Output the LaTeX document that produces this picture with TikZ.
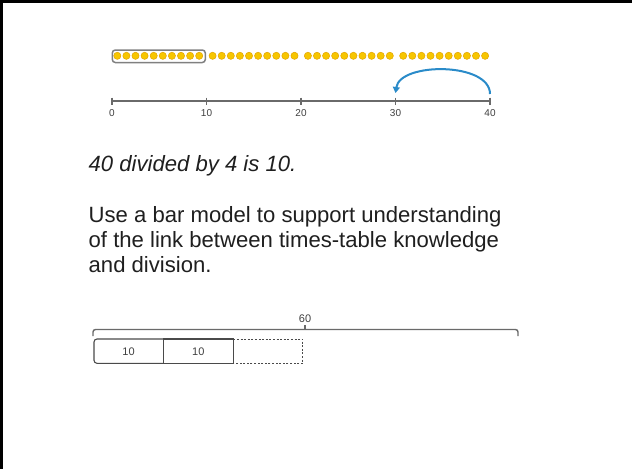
\documentclass[tikz,border=0pt]{standalone}
\usepackage{fontspec}
\setmainfont{Liberation Sans}
\usetikzlibrary{arrows.meta}
\definecolor{dotfill}{HTML}{F7C600}
\definecolor{dotedge}{HTML}{E3A400}
\definecolor{axisgray}{HTML}{6A6A6A}
\definecolor{arcblue}{HTML}{2A8BC9}
\definecolor{bargray}{HTML}{4A4A4A}
\tikzset{
  dot/.style={circle,fill=dotfill,draw=dotedge,line width=0.5pt,inner sep=0pt,minimum size=7.2pt},
  axis/.style={draw=axisgray,line width=1.4pt},
  ticklbl/.style={font=\fontsize{10}{11}\selectfont,text=black!75,inner sep=0pt,anchor=north},
  body/.style={font=\fontsize{22.1}{25}\selectfont,inner sep=0pt,anchor=base west,text=black!88},
  barbox/.style={draw=bargray,line width=1.1pt},
  barlbl/.style={font=\fontsize{11}{12}\selectfont,text=black!75,inner sep=0pt},
}
\begin{document}
\begin{tikzpicture}[x=1pt,y=-1pt]
\useasboundingbox (0,0) rectangle (632,469);
\fill[white] (0,0) rectangle (632,469);
% frame (top and left)
\draw[line width=2.6pt] (0,1.3) -- (632,1.3);
\draw[line width=2.6pt] (1.3,0) -- (1.3,469);
% dots
\foreach \k in {0,1,2,3}{
  \foreach \i in {0,...,9}{
    \node[dot] (d\k\i) at ({117.3+95.3*\k+9.1*\i},55.8) {};
  }
}
% box around first ten
\draw[draw=gray,line width=1.5pt,rounded corners=3pt] (112.3,50) rectangle (205.3,62.5);
% number line
\coordinate (n0) at (112,101);
\coordinate (n40) at (490,101);
\draw[axis] (n0) -- (n40);
\foreach \v/\x in {0/112,10/206.5,20/301,30/395.5,40/490}{
  \coordinate (t\v) at (\x,101);
  \draw[axisgray,line width=1.2pt] (\x,97.5) -- (\x,104.5);
  \node[ticklbl] (l\v) at (\x,109.5) {\v};
}
% jump arc
\coordinate (a1) at (490,94);
\coordinate (a2) at (395.5,93);
\draw[arcblue,line width=2pt,-{Triangle[length=6pt,width=7pt]}]
  (a1) .. controls (490,62) and (400,62) .. (a2);
% text
\node[body,font=\fontsize{22.1}{25}\selectfont\itshape] (t1) at (88.5,171.5) {40 divided by 4 is 10.};
\node[body] (p1) at (88.5,222.5) {Use a bar model to support understanding};
\node[body] (p2) at (88.5,247.5) {of the link between times-table knowledge};
\node[body] (p3) at (88.5,272.5) {and division.};
% bar model brace
\coordinate (bl) at (93,336);
\coordinate (br) at (518,336);
\draw[draw=axisgray,line width=1.4pt,rounded corners=2.5pt] (bl) -- (93,329.5) -- (518,329.5) -- (br);
\draw[draw=axisgray,line width=1.2pt] (305,329.5) -- (305,325);
\node[barlbl,anchor=south] (lab60) at (305,322.5) {60};
% bars
\draw[barbox,rounded corners=3pt] (163.3,339) -- (94,339) -- (94,363.3) -- (163.3,363.3);
\draw[barbox] (163.3,339) rectangle (233.3,363.3);
\draw[barbox,line width=1pt,dash pattern=on 2pt off 1.6pt] (233.3,339) -- (302.7,339) -- (302.7,363.3) -- (233.3,363.3);
\node[barlbl] (b1) at (128.6,351.3) {10};
\node[barlbl] (b2) at (198.3,351.3) {10};
\end{tikzpicture}
\end{document}
